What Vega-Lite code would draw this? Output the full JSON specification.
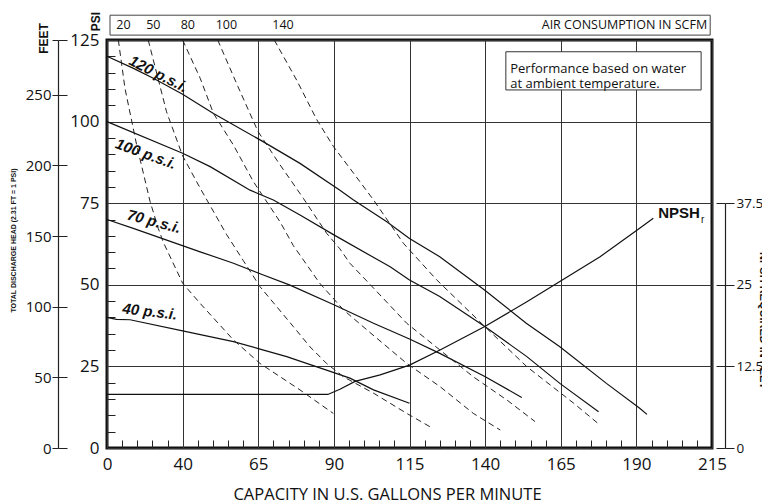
{
  "$schema": "https://vega.github.io/schema/vega-lite/v6.json",
  "width": 605,
  "height": 408,
  "autosize": {"type": "none"},
  "padding": {"left": 107, "top": 40, "right": 50, "bottom": 55},
  "background": "white",
  "config": {
    "view": {"stroke": "#111", "strokeWidth": 3},
    "font": "Open Sans",
    "axis": {
      "labelFont": "Open Sans",
      "labelColor": "#111",
      "labelFlush": false,
      "labelOverlap": false,
      "titleColor": "#111",
      "domainColor": "#222",
      "tickColor": "#222",
      "gridColor": "#333",
      "gridOpacity": 1,
      "gridWidth": 1
    }
  },
  "datasets": {
    "psi": [
      {"curve": 120, "gpm": 0, "psi": 120}, {"curve": 120, "gpm": 14, "psi": 116.3}, {"curve": 120, "gpm": 24.5, "psi": 113.3},
      {"curve": 120, "gpm": 40, "psi": 108.4}, {"curve": 120, "gpm": 50.2, "psi": 102.5}, {"curve": 120, "gpm": 65.6, "psi": 94.4},
      {"curve": 120, "gpm": 78.8, "psi": 87.2}, {"curve": 120, "gpm": 92, "psi": 79}, {"curve": 120, "gpm": 96.5, "psi": 76},
      {"curve": 120, "gpm": 107.5, "psi": 69.3}, {"curve": 120, "gpm": 115, "psi": 64.2}, {"curve": 120, "gpm": 125, "psi": 58.6},
      {"curve": 120, "gpm": 139.8, "psi": 48.4}, {"curve": 120, "gpm": 153.6, "psi": 38.2}, {"curve": 120, "gpm": 164.7, "psi": 31},
      {"curve": 120, "gpm": 180.1, "psi": 19.8}, {"curve": 120, "gpm": 191.1, "psi": 12.2}, {"curve": 120, "gpm": 193.5, "psi": 10.3},
      {"curve": 100, "gpm": 0, "psi": 100}, {"curve": 100, "gpm": 40, "psi": 90.3}, {"curve": 100, "gpm": 49.1, "psi": 86.2},
      {"curve": 100, "gpm": 62.3, "psi": 79}, {"curve": 100, "gpm": 70, "psi": 76}, {"curve": 100, "gpm": 78.8, "psi": 71.4},
      {"curve": 100, "gpm": 90, "psi": 65.3}, {"curve": 100, "gpm": 108.6, "psi": 55.5}, {"curve": 100, "gpm": 115, "psi": 51.5},
      {"curve": 100, "gpm": 125, "psi": 46.4}, {"curve": 100, "gpm": 139.9, "psi": 37.2}, {"curve": 100, "gpm": 153.8, "psi": 28},
      {"curve": 100, "gpm": 164.7, "psi": 19.8}, {"curve": 100, "gpm": 177.5, "psi": 11.1},
      {"curve": 70, "gpm": 0, "psi": 70}, {"curve": 70, "gpm": 13.9, "psi": 67.3}, {"curve": 70, "gpm": 31.6, "psi": 63.7},
      {"curve": 70, "gpm": 45.8, "psi": 60.1}, {"curve": 70, "gpm": 56.8, "psi": 56.6}, {"curve": 70, "gpm": 65.6, "psi": 53.4},
      {"curve": 70, "gpm": 75.5, "psi": 49.9}, {"curve": 70, "gpm": 90, "psi": 43.9}, {"curve": 70, "gpm": 103.1, "psi": 38.2},
      {"curve": 70, "gpm": 115, "psi": 33.4}, {"curve": 70, "gpm": 125, "psi": 29}, {"curve": 70, "gpm": 139.9, "psi": 21.9},
      {"curve": 70, "gpm": 152.1, "psi": 15.5},
      {"curve": 40, "gpm": 0, "psi": 40}, {"curve": 40, "gpm": 5, "psi": 39.4}, {"curve": 40, "gpm": 12.2, "psi": 39.3},
      {"curve": 40, "gpm": 40, "psi": 35.9}, {"curve": 40, "gpm": 56.8, "psi": 32.6}, {"curve": 40, "gpm": 65.6, "psi": 30.3},
      {"curve": 40, "gpm": 74.4, "psi": 28}, {"curve": 40, "gpm": 90, "psi": 23.1}, {"curve": 40, "gpm": 95.3, "psi": 21.4},
      {"curve": 40, "gpm": 103.1, "psi": 17.8}, {"curve": 40, "gpm": 115, "psi": 13.7}
    ],
    "scfm": [
      {"scfm": 20, "gpm": 6, "psi": 125}, {"scfm": 20, "gpm": 9.5, "psi": 110.2}, {"scfm": 20, "gpm": 15.7, "psi": 92.8},
      {"scfm": 20, "gpm": 22.8, "psi": 75.5}, {"scfm": 20, "gpm": 27.1, "psi": 67.3}, {"scfm": 20, "gpm": 29.8, "psi": 63},
      {"scfm": 20, "gpm": 40, "psi": 50.5}, {"scfm": 20, "gpm": 45.8, "psi": 44.3}, {"scfm": 20, "gpm": 56.8, "psi": 33.1},
      {"scfm": 20, "gpm": 65.6, "psi": 25.9}, {"scfm": 20, "gpm": 78.8, "psi": 17.8}, {"scfm": 20, "gpm": 89.8, "psi": 10.6},
      {"scfm": 50, "gpm": 21.8, "psi": 125}, {"scfm": 50, "gpm": 31.5, "psi": 103}, {"scfm": 50, "gpm": 40, "psi": 89.5},
      {"scfm": 50, "gpm": 45.8, "psi": 79.6}, {"scfm": 50, "gpm": 54.6, "psi": 65.3}, {"scfm": 50, "gpm": 60, "psi": 57.5},
      {"scfm": 50, "gpm": 65.6, "psi": 49.4}, {"scfm": 50, "gpm": 71.1, "psi": 43.3}, {"scfm": 50, "gpm": 76.6, "psi": 37.2},
      {"scfm": 50, "gpm": 82.1, "psi": 31}, {"scfm": 50, "gpm": 87.6, "psi": 25.9}, {"scfm": 50, "gpm": 93.2, "psi": 21.8},
      {"scfm": 50, "gpm": 103.1, "psi": 16.8}, {"scfm": 50, "gpm": 114.1, "psi": 10.6}, {"scfm": 50, "gpm": 121.8, "psi": 6.5},
      {"scfm": 80, "gpm": 40, "psi": 125}, {"scfm": 80, "gpm": 45.8, "psi": 113.3}, {"scfm": 80, "gpm": 50.2, "psi": 102.5},
      {"scfm": 80, "gpm": 56.8, "psi": 92.8}, {"scfm": 80, "gpm": 63.4, "psi": 81.6}, {"scfm": 80, "gpm": 72.2, "psi": 69.3},
      {"scfm": 80, "gpm": 76.6, "psi": 62}, {"scfm": 80, "gpm": 85.3, "psi": 50.5}, {"scfm": 80, "gpm": 93.2, "psi": 42.3},
      {"scfm": 80, "gpm": 100.9, "psi": 36.2}, {"scfm": 80, "gpm": 114.1, "psi": 25.9}, {"scfm": 80, "gpm": 125.1, "psi": 18.8},
      {"scfm": 80, "gpm": 136.1, "psi": 10.6}, {"scfm": 80, "gpm": 145, "psi": 5.5},
      {"scfm": 100, "gpm": 51.6, "psi": 125}, {"scfm": 100, "gpm": 58.3, "psi": 110.7}, {"scfm": 100, "gpm": 64.9, "psi": 97},
      {"scfm": 100, "gpm": 71.5, "psi": 87.7}, {"scfm": 100, "gpm": 79.9, "psi": 76.5}, {"scfm": 100, "gpm": 87.6, "psi": 65.8},
      {"scfm": 100, "gpm": 92, "psi": 61}, {"scfm": 100, "gpm": 95.3, "psi": 56.6}, {"scfm": 100, "gpm": 103.1, "psi": 49},
      {"scfm": 100, "gpm": 114.1, "psi": 38.2}, {"scfm": 100, "gpm": 125.1, "psi": 30}, {"scfm": 100, "gpm": 136.1, "psi": 21.8},
      {"scfm": 100, "gpm": 147.2, "psi": 14.7}, {"scfm": 100, "gpm": 156.5, "psi": 8.1},
      {"scfm": 140, "gpm": 70.3, "psi": 125}, {"scfm": 140, "gpm": 77.7, "psi": 112.7}, {"scfm": 140, "gpm": 84.4, "psi": 100.5},
      {"scfm": 140, "gpm": 89.9, "psi": 92.3}, {"scfm": 140, "gpm": 96.5, "psi": 84.2}, {"scfm": 140, "gpm": 103.1, "psi": 76},
      {"scfm": 140, "gpm": 113, "psi": 62.7}, {"scfm": 140, "gpm": 124, "psi": 51.5}, {"scfm": 140, "gpm": 139.9, "psi": 37.2},
      {"scfm": 140, "gpm": 153.8, "psi": 24.9}, {"scfm": 140, "gpm": 169.3, "psi": 13.7}, {"scfm": 140, "gpm": 178, "psi": 7}
    ],
    "npsh": [
      {"gpm": 0, "ft": 8.2}, {"gpm": 88, "ft": 8.2}, {"gpm": 92, "ft": 9}, {"gpm": 97, "ft": 10.2},
      {"gpm": 105.3, "ft": 11.2}, {"gpm": 115, "ft": 12.7}, {"gpm": 125.1, "ft": 15}, {"gpm": 139.9, "ft": 18.6},
      {"gpm": 153.8, "ft": 22.4}, {"gpm": 164.7, "ft": 25.5}, {"gpm": 178, "ft": 29.3}, {"gpm": 191.2, "ft": 33.7},
      {"gpm": 195.6, "ft": 35.2}
    ],
    "labels": [
      {"label": "120 p.s.i.", "level": 120, "gpm": 27.2, "psi": 114.6},
      {"label": "100 p.s.i.", "level": 100, "gpm": 20.6, "psi": 90.1},
      {"label": "70 p.s.i.", "level": 70, "gpm": 24.9, "psi": 69.4},
      {"label": "40 p.s.i.", "level": 40, "gpm": 22.7, "psi": 41.8}
    ],
    "one": [{}]
  },
  "resolve": {
    "scale": {"y": "independent"},
    "axis": {"x": "independent", "y": "independent"}
  },
  "layer": [
    {
      "data": {"name": "psi"},
      "mark": {"type": "line", "color": "#111", "strokeWidth": 1.2},
      "encoding": {
        "x": {
          "field": "gpm", "type": "quantitative",
          "scale": {"domain": [0, 40, 215], "range": [0, 75.625, 605], "nice": false, "zero": false},
          "axis": {
            "orient": "bottom", "values": [0, 40, 65, 90, 115, 140, 165, 190, 215],
            "grid": true, "ticks": false, "domain": false,
            "labelFontSize": 17, "labelPadding": 8,
            "title": "CAPACITY IN U.S. GALLONS PER MINUTE",
            "titleFont": "Open Sans", "titleFontSize": 16.5, "titleFontWeight": "normal",
            "titleX": 280, "titleY": 51, "titleAlign": "center", "titleBaseline": "alphabetic"
          }
        },
        "y": {
          "field": "psi", "type": "quantitative",
          "scale": {"domain": [0, 125], "nice": false, "zero": false},
          "axis": {
            "orient": "left", "values": [0, 25, 50, 75, 100, 125],
            "grid": true, "ticks": false, "domain": false,
            "labelFontSize": 17, "labelPadding": 8,
            "title": "PSI", "titleFont": "Liberation Sans", "titleFontWeight": "bold", "titleFontSize": 12,
            "titleAngle": -90, "titleX": -12, "titleY": -19, "titleAlign": "center", "titleBaseline": "middle"
          }
        },
        "detail": {"field": "curve", "type": "nominal"}
      }
    },
    {
      "data": {"name": "scfm"},
      "mark": {"type": "line", "color": "#222", "strokeWidth": 1, "strokeDash": [6, 4]},
      "encoding": {
        "x": {"field": "gpm", "type": "quantitative", "scale": {"domain": [0, 40, 215], "range": [0, 75.625, 605], "nice": false, "zero": false}, "axis": null},
        "y": {"field": "psi", "type": "quantitative", "scale": {"domain": [0, 125], "nice": false, "zero": false}, "axis": null},
        "detail": {"field": "scfm", "type": "nominal"}
      }
    },
    {
      "data": {"name": "npsh"},
      "mark": {"type": "line", "color": "#111", "strokeWidth": 1.2},
      "encoding": {
        "x": {"field": "gpm", "type": "quantitative", "scale": {"domain": [0, 40, 215], "range": [0, 75.625, 605], "nice": false, "zero": false}, "axis": null},
        "y": {
          "field": "ft", "type": "quantitative",
          "scale": {"domain": [0, 37.5], "range": [408, 163.2], "nice": false, "zero": false},
          "axis": {
            "orient": "right", "offset": 13, "values": [0, 12.5, 25, 37.5], "format": ".1~f",
            "grid": false, "ticks": true, "tickSize": 9, "domain": true, "domainWidth": 1.2,
            "labelFontSize": 13.5, "labelPadding": 2,
            "title": "NPSH REQUIRED IN FEET", "titleFont": "Liberation Sans", "titleFontWeight": "bold", "titleFontSize": 11,
            "titleAngle": 90, "titleX": 37, "titleY": 280, "titleAlign": "center", "titleBaseline": "middle"
          }
        }
      }
    },
    {
      "data": {"name": "one"},
      "mark": {"type": "rule", "opacity": 0},
      "encoding": {
        "y": {
          "datum": 0, "type": "quantitative",
          "scale": {"domain": [0, 37.5], "range": [408, 163.2], "nice": false, "zero": false},
          "axis": {
            "orient": "right", "offset": 13, "values": [0, 12.5, 25, 37.5],
            "grid": false, "ticks": true, "tickSize": -9, "domain": false, "labels": false, "title": null
          }
        }
      }
    },
    {
      "data": {"name": "one"},
      "mark": {"type": "rule", "opacity": 0},
      "encoding": {
        "y": {
          "datum": 0, "type": "quantitative",
          "scale": {"domain": [0, 288.75], "nice": false, "zero": false},
          "axis": {
            "orient": "left", "offset": 49, "values": [0, 50, 100, 150, 200, 250, 288.75],
            "labelExpr": "datum.value > 280 ? '' : datum.label",
            "grid": false, "ticks": true, "tickSize": 6, "domain": true, "domainWidth": 1.2,
            "labelFontSize": 15, "labelPadding": 1,
            "title": "TOTAL DISCHARGE HEAD (2.31 FT = 1 PSI)", "titleFont": "Liberation Sans",
            "titleFontWeight": "bold", "titleFontSize": 7,
            "titleAngle": -90, "titleX": -45, "titleY": 200, "titleAlign": "center", "titleBaseline": "middle"
          }
        }
      }
    },
    {
      "data": {"name": "one"},
      "mark": {"type": "rule", "opacity": 0},
      "encoding": {
        "y": {
          "datum": 0, "type": "quantitative",
          "scale": {"domain": [0, 288.75], "nice": false, "zero": false},
          "axis": {
            "orient": "left", "offset": 49, "values": [0, 50, 100, 150, 200, 250, 288.75],
            "grid": false, "ticks": true, "tickSize": -9, "domain": false, "labels": false,
            "title": "FEET", "titleFont": "Liberation Sans", "titleFontWeight": "bold", "titleFontSize": 12,
            "titleAngle": -90, "titleX": -15, "titleY": -2, "titleAlign": "center", "titleBaseline": "middle"
          }
        }
      }
    },
    {
      "data": {"name": "one"},
      "mark": {"type": "rule", "opacity": 0},
      "encoding": {
        "y": {
          "datum": 0, "type": "quantitative",
          "scale": {"domain": [0, 125], "nice": false, "zero": false},
          "axis": {
            "orient": "left", "values": [5, 10, 15, 20, 30, 35, 40, 45, 55, 60, 65, 70, 80, 85, 90, 95, 105, 110, 115, 120],
            "grid": false, "ticks": true, "tickSize": -8, "domain": false, "labels": false, "title": null
          }
        }
      }
    },
    {
      "data": {"name": "one"},
      "mark": {"type": "rule", "opacity": 0},
      "encoding": {
        "x": {
          "datum": 0, "type": "quantitative",
          "scale": {"domain": [0, 40, 215], "range": [0, 75.625, 605], "nice": false, "zero": false},
          "axis": {
            "orient": "bottom", "values": [8, 16, 24, 32, 45, 50, 55, 60, 70, 75, 80, 85, 95, 100, 105, 110, 120, 125, 130, 135, 145, 150, 155, 160, 170, 175, 180, 185, 195, 200, 205, 210],
            "grid": false, "ticks": true, "tickSize": -8, "domain": false, "labels": false, "title": null
          }
        }
      }
    },
    {
      "data": {"name": "labels"},
      "mark": {"type": "text", "font": "Liberation Sans", "fontWeight": "bold", "fontStyle": "italic", "fontSize": 15, "align": "center", "baseline": "middle", "color": "#111"},
      "encoding": {
        "x": {"field": "gpm", "type": "quantitative", "scale": {"domain": [0, 40, 215], "range": [0, 75.625, 605], "nice": false, "zero": false}, "axis": null},
        "y": {"field": "psi", "type": "quantitative", "scale": {"domain": [0, 125], "nice": false, "zero": false}, "axis": null},
        "text": {"field": "label", "type": "nominal"},
        "angle": {"field": "level", "type": "quantitative", "scale": {"domain": [40, 70, 100, 120], "range": [7, 15, 20, 27]}, "legend": null}
      }
    },
    {
      "data": {"name": "one"},
      "mark": {"type": "rect", "filled": false, "stroke": "#444", "strokeWidth": 1},
      "encoding": {
        "x": {"datum": 1.6, "type": "quantitative", "scale": {"domain": [0, 40, 215], "range": [0, 75.625, 605], "nice": false, "zero": false}, "axis": null},
        "x2": {"datum": 214.4},
        "y": {"datum": 126.5, "type": "quantitative", "scale": {"domain": [0, 125], "nice": false, "zero": false}, "axis": null},
        "y2": {"datum": 132.6}
      }
    },
    {
      "data": {"name": "scfm"},
      "transform": [{"filter": "datum.psi == 125"}],
      "mark": {"type": "text", "align": "left", "baseline": "middle", "fontSize": 12.5, "dx": -2, "color": "#111", "font": "Open Sans"},
      "encoding": {
        "x": {"field": "gpm", "type": "quantitative", "scale": {"domain": [0, 40, 215], "range": [0, 75.625, 605], "nice": false, "zero": false}, "axis": null},
        "y": {"datum": 129.6, "type": "quantitative", "scale": {"domain": [0, 125], "nice": false, "zero": false}, "axis": null},
        "text": {"field": "scfm", "type": "nominal"}
      }
    },
    {
      "data": {"name": "one"},
      "mark": {"type": "text", "align": "right", "baseline": "middle", "fontSize": 12.5, "color": "#111", "font": "Open Sans", "text": "AIR CONSUMPTION IN SCFM"},
      "encoding": {
        "x": {"datum": 213.4, "type": "quantitative", "scale": {"domain": [0, 40, 215], "range": [0, 75.625, 605], "nice": false, "zero": false}, "axis": null},
        "y": {"datum": 129.6, "type": "quantitative", "scale": {"domain": [0, 125], "nice": false, "zero": false}, "axis": null}
      }
    },
    {
      "data": {"name": "one"},
      "mark": {"type": "rect", "fill": "white", "stroke": "#333", "strokeWidth": 1},
      "encoding": {
        "x": {"datum": 146.85, "type": "quantitative", "scale": {"domain": [0, 40, 215], "range": [0, 75.625, 605], "nice": false, "zero": false}, "axis": null},
        "x2": {"datum": 211.4},
        "y": {"datum": 109.7, "type": "quantitative", "scale": {"domain": [0, 125], "nice": false, "zero": false}, "axis": null},
        "y2": {"datum": 121.4}
      }
    },
    {
      "data": {"name": "one"},
      "mark": {"type": "text", "align": "left", "baseline": "middle", "fontSize": 13, "lineHeight": 15, "color": "#111", "font": "Open Sans", "text": ["Performance based on water", "at ambient temperature."]},
      "encoding": {
        "x": {"datum": 148.3, "type": "quantitative", "scale": {"domain": [0, 40, 215], "range": [0, 75.625, 605], "nice": false, "zero": false}, "axis": null},
        "y": {"datum": 116.2, "type": "quantitative", "scale": {"domain": [0, 125], "nice": false, "zero": false}, "axis": null}
      }
    },
    {
      "data": {"name": "one"},
      "mark": {"type": "text", "align": "left", "baseline": "middle", "fontSize": 15, "fontWeight": "bold", "color": "#111", "font": "Liberation Sans", "text": "NPSH"},
      "encoding": {
        "x": {"datum": 197.2, "type": "quantitative", "scale": {"domain": [0, 40, 215], "range": [0, 75.625, 605], "nice": false, "zero": false}, "axis": null},
        "y": {"datum": 72, "type": "quantitative", "scale": {"domain": [0, 125], "nice": false, "zero": false}, "axis": null}
      }
    },
    {
      "data": {"name": "one"},
      "mark": {"type": "text", "align": "left", "baseline": "middle", "fontSize": 10, "color": "#111", "font": "Liberation Sans", "text": "r"},
      "encoding": {
        "x": {"datum": 211.4, "type": "quantitative", "scale": {"domain": [0, 40, 215], "range": [0, 75.625, 605], "nice": false, "zero": false}, "axis": null},
        "y": {"datum": 70.0, "type": "quantitative", "scale": {"domain": [0, 125], "nice": false, "zero": false}, "axis": null}
      }
    }
  ]
}
